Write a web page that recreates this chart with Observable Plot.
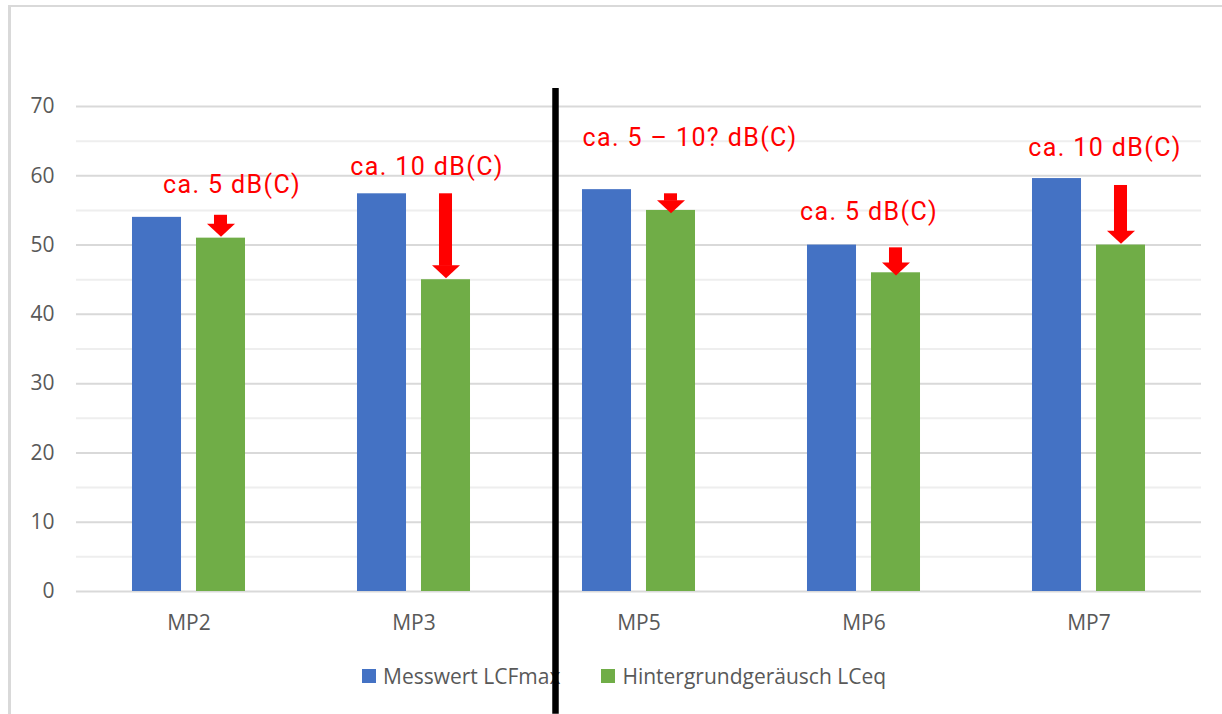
<!DOCTYPE html>
<html>
<head>
<meta charset="utf-8">
<script src="https://cdn.jsdelivr.net/npm/d3@7"></script>
<script src="https://cdn.jsdelivr.net/npm/@observablehq/plot@0.6"></script>
<style>
  html, body { margin: 0; padding: 0; background: #fff; width: 1222px; height: 714px; overflow: hidden; }
  #frame { position: absolute; left: 8px; top: 5px; width: 1211px; height: 709px;
           border-left: 3px solid #d9d9d9; border-top: 2px solid #d9d9d9; }
  #chart svg { position: relative; z-index: 1; }
  #chart text.annot { letter-spacing: 1.4px; }
  #legend { position: absolute; left: 351px; top: 655px; height: 28px; display: flex; align-items: center;
            font-family: "Open Sans"; font-size: 21px; color: #595959; white-space: nowrap; }
  #legend .sw { display: inline-block; width: 14px; height: 14px; margin-right: 7px; }
  #legend .item { display: flex; align-items: center; }
  #legend .item + .item { margin-left: 41px; }
</style>
</head>
<body>
<div id="frame">
  <div id="chart"></div>
  <div id="legend"></div>
</div>
<script>
// ---- data ----
const categories = ["MP2", "MP3", "MP5", "MP6", "MP7"];
const series = ["Messwert LCFmax", "Hintergrundgeräusch LCeq"];
const seriesColors = ["#4472C4", "#70AD47"];
const lcfmax = [54, 57.4, 58, 50, 59.6];
const lceq = [51, 45, 55, 46, 50];
const yTicks = [0, 10, 20, 30, 40, 50, 60, 70];
const yMinorTicks = [5, 15, 25, 35, 45, 55, 65];

// annotations (red arrows + labels)
const annLabels = ["ca. 5 dB(C)", "ca. 10 dB(C)", "ca. 5 – 10? dB(C)", "ca. 5 dB(C)", "ca. 10 dB(C)"];
const annLabelValue = [58.6, 61.25, 65.4, 54.8, 64.0];
const arrowFrom = [54.3, 57.4, 57.4, 49.6, 58.6];
const arrowTo = [51.2, 45.2, 54.6, 45.6, 50.2];

// vertical divider
const dividerCategory = ["MP5"];
const dividerTop = [72.6];
const dividerBottom = [-17.7];

// ---- tables ----
const bars = categories.flatMap((c, i) => [
  {cat: c, series: series[0], value: lcfmax[i]},
  {cat: c, series: series[1], value: lceq[i]}
]);
const ann = categories.map((c, i) => ({
  cat: c, series: series[1], label: annLabels[i], ly: annLabelValue[i], from: arrowFrom[i], to: arrowTo[i]
}));
const dividers = dividerCategory.map((c, i) => ({cat: c, series: series[0], top: dividerTop[i], bottom: dividerBottom[i]}));

// flat downward arrow head, tip at the anchor point
const arrowHead = {
  draw(ctx, size) {
    const r = Math.sqrt(size / Math.PI);
    ctx.moveTo(-r, -r * 0.93);
    ctx.lineTo(r, -r * 0.93);
    ctx.lineTo(0, 0);
    ctx.closePath();
  }
};

const labelNudge = [11, -19, 19, -27, -16];

const chart = Plot.plot({
  width: 1211,
  height: 640,
  marginLeft: 64,
  marginRight: 21,
  marginTop: 99,
  marginBottom: 56,
  style: {fontFamily: "Open Sans", fontSize: "21px", color: "#595959", background: "transparent", overflow: "visible"},
  fx: {domain: categories, padding: 0, axis: "bottom", tickSize: 0, tickPadding: 24, label: null},
  x: {domain: series, paddingInner: 0.234, paddingOuter: 0.875, axis: null, round: false},
  y: {domain: [0, 70], ticks: yTicks, tickSize: 0, tickPadding: 22, label: null},
  color: {domain: series, range: seriesColors},
  marks: [
    Plot.ruleY(yMinorTicks, {stroke: "#eeeeee", strokeWidth: 2}),
    Plot.ruleY(yTicks, {stroke: "#d9d9d9", strokeWidth: 2}),
    Plot.barY(bars, {fx: "cat", x: "series", y: "value", fill: "series"}),
    Plot.barY(ann, {fx: "cat", x: "series", y1: "from", y2: "to", fill: "#ff0000", insetLeft: 18, insetRight: 18, insetBottom: 12}),
    Plot.dot(ann, {fx: "cat", x: "series", y: "to", symbol: arrowHead, r: 14, fill: "#ff0000", stroke: "none"}),
    ...ann.map((a, i) => Plot.text([a], {
      fx: "cat", x: "series", y: "ly", text: "label", dx: labelNudge[i],
      fill: "#ff0000", fontSize: 25, fontFamily: "Roboto"
    })),
    Plot.ruleX(dividers, {fx: "cat", x: "series", y1: "top", y2: "bottom", dx: -51.5, stroke: "#000", strokeWidth: 6.5})
  ]
});
// widen the annotation lettering a little (DIN-like spacing)
chart.querySelectorAll('g[font-family="Roboto"] text').forEach(t => {
  t.classList.add("annot");
  t.style.letterSpacing = "1.4px";
});
document.getElementById("chart").appendChild(chart);

// legend
const legend = document.getElementById("legend");
series.forEach((s, i) => {
  const item = document.createElement("span");
  item.className = "item";
  const sw = document.createElement("span");
  sw.className = "sw";
  sw.style.background = seriesColors[i];
  const t = document.createElement("span");
  t.textContent = s;
  item.appendChild(sw);
  item.appendChild(t);
  legend.appendChild(item);
});
</script>
</body>
</html>
